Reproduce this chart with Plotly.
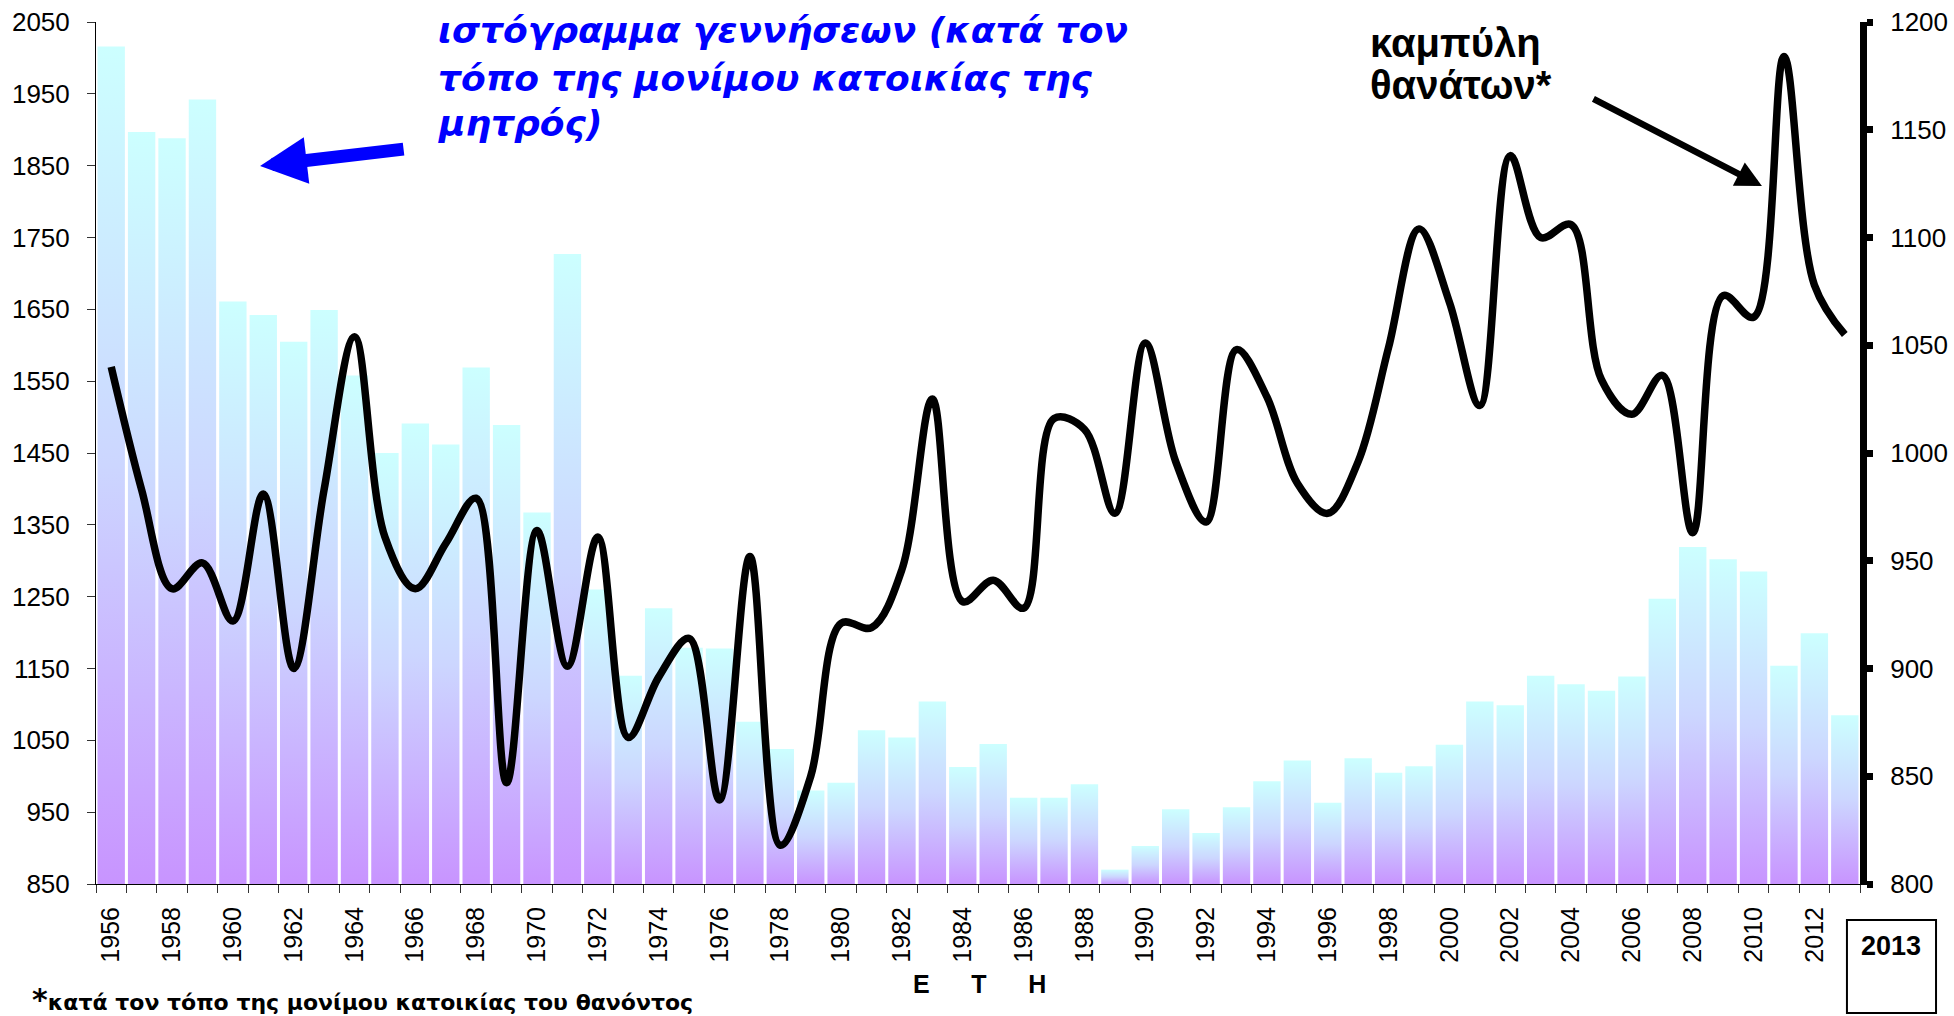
import plotly.graph_objects as go

years = list(range(1956, 2014))
births = [2016, 1897, 1888, 1942, 1661, 1642, 1605, 1649, 1558, 1450,
          1491, 1462, 1569, 1489, 1367, 1727, 1260, 1140, 1234, 1179,
          1178, 1076, 1038, 980, 991, 1064, 1054, 1104, 1013, 1045,
          970, 970, 989, 870, 903, 954, 921, 957, 993, 1022,
          963, 1025, 1005, 1014, 1044, 1104, 1099, 1140, 1128, 1119,
          1139, 1247, 1319, 1302, 1285, 1154, 1199, 1085]
deaths = [1040, 983, 937, 949, 922, 981, 900, 983, 1054, 961,
          937, 958, 979, 847, 964, 901, 961, 868, 896, 914,
          839, 952, 818, 850, 921, 919, 946, 1025, 931, 941,
          928, 1016, 1011, 972, 1051, 996, 968, 1048, 1026, 986,
          972, 996, 1049, 1104, 1070, 1022, 1138, 1100, 1106, 1034,
          1018, 1036, 963, 1073, 1063, 1184, 1078, 1055]
left_ticks = list(range(850, 2051, 100))
right_ticks = list(range(800, 1201, 50))
label_years = [y for y in years if y % 2 == 0 and y < 2013]

Y_MIN, Y_MAX = 850, 2050
HALF = 0.45
AX_FONT = "Liberation Sans, Arial, sans-serif"

fig = go.Figure()

# gradient bars (one filled polygon per year, built from the data arrays)
for yr, v in zip(years, births):
    fig.add_trace(go.Scatter(
        x=[yr - HALF, yr - HALF, yr + HALF, yr + HALF, yr - HALF],
        y=[Y_MIN, v, v, Y_MIN, Y_MIN],
        mode="lines", line=dict(width=0), fill="toself",
        fillgradient=dict(type="vertical",
                          colorscale=[[0, "#C894FF"], [0.5, "#CCD6FF"], [1, "#CCFFFF"]]),
        hoverinfo="skip", showlegend=False, yaxis="y"))

fig.add_trace(go.Scatter(
    x=years, y=deaths, mode="lines", yaxis="y2",
    line=dict(color="black", width=7.5, shape="spline", smoothing=1.0),
    hoverinfo="skip", showlegend=False))

fig.update_layout(
    width=1954, height=1016,
    margin=dict(l=96, r=94, t=22, b=132, autoexpand=False),
    paper_bgcolor="white", plot_bgcolor="white",
    font=dict(family=AX_FONT, color="black"),
    xaxis=dict(
        range=[1955.5, 2013.5], showgrid=False, zeroline=False, automargin=False,
        tickmode="array", tickvals=label_years, ticktext=[str(y) for y in label_years],
        tickangle=-90, ticks="", tickfont=dict(size=25, family=AX_FONT, color="black"),
        showline=True, linecolor="black", linewidth=1,
        ticklabelstandoff=12,
        minor=dict(tickmode="array", tickvals=[y - 0.5 for y in years] + [2013.5],
                   ticks="outside", ticklen=8, tickwidth=1, tickcolor="#333"),
    ),
    yaxis=dict(
        range=[Y_MIN, Y_MAX], tickmode="array", tickvals=left_ticks, automargin=False,
        showgrid=False, zeroline=False, showline=True, linecolor="black", linewidth=1,
        ticks="outside", ticklen=8, tickwidth=1, tickcolor="#333",
        tickfont=dict(size=26, family=AX_FONT, color="black"), ticklabelstandoff=12,
    ),
    yaxis2=dict(
        range=[800, 1200], overlaying="y", side="right", tickmode="array", tickvals=right_ticks,
        showgrid=False, zeroline=False, showline=True, linecolor="black", linewidth=7,
        ticks="outside", ticklen=6, tickwidth=7, tickcolor="black", automargin=False,
        tickfont=dict(size=26, family=AX_FONT, color="black"), ticklabelstandoff=12,
    ),
)

BLUE_FONT = dict(family="DejaVu Sans, sans-serif", size=36, color="#0000FF")
blue_lines = ["ιστόγραμμα γεννήσεων (κατά τον", "τόπο της μονίμου κατοικίας της", "μητρός)"]
blue_y = [0.9896, 0.9339, 0.8817]
for t, yy in zip(blue_lines, blue_y):
    fig.add_annotation(text="<b><i>" + t + "</i></b>", xref="paper", yref="paper",
                       x=0.1927, y=yy, xanchor="left", yanchor="middle",
                       showarrow=False, font=BLUE_FONT)

BLACK_FONT = dict(family=AX_FONT, size=40, color="black")
for t, yy in zip(["καμπύλη", "θανάτων*"], [0.9756, 0.9269]):
    fig.add_annotation(text="<b>" + t + "</b>", xref="paper", yref="paper",
                       x=0.7211, y=yy, xanchor="left", yanchor="middle",
                       showarrow=False, font=BLACK_FONT)

# arrows
fig.add_annotation(text="", xref="paper", yref="paper", x=0.093, y=0.833,
                   ax=145, ay=-17, showarrow=True, arrowhead=2, arrowwidth=13,
                   arrowsize=0.72, arrowcolor="#0000FF")
fig.add_annotation(text="", xref="paper", yref="paper", x=0.9444, y=0.8097,
                   ax=-170, ay=-88, showarrow=True, arrowhead=2, arrowwidth=6.5,
                   arrowsize=0.8, arrowcolor="black")

# axis title
fig.add_annotation(text="<b>Ε\u00a0\u00a0\u00a0\u00a0\u00a0\u00a0Τ\u00a0\u00a0\u00a0\u00a0\u00a0\u00a0Η</b>",
                   xref="paper", yref="paper", x=0.5011, y=-0.116,
                   xanchor="center", yanchor="middle", showarrow=False,
                   font=dict(family=AX_FONT, size=25, color="black"))

# 2013 box
fig.add_shape(type="rect", xref="paper", yref="paper", x0=0.9926, x1=1.0431,
              y0=-0.1497, y1=-0.0418, line=dict(color="black", width=2))
fig.add_annotation(text="<b>2013</b>", xref="paper", yref="paper", x=1.0176, y=-0.0719,
                   xanchor="center", yanchor="middle", showarrow=False,
                   font=dict(family=AX_FONT, size=27, color="black"))

# footnote
fig.add_annotation(text="<b><span style='font-size:30px'>*</span>κατά τον τόπο της μονίμου κατοικίας του θανόντος</b>",
                   xref="paper", yref="paper", x=-0.0374, y=-0.1345,
                   xanchor="left", yanchor="middle", showarrow=False,
                   font=dict(family="DejaVu Sans, sans-serif", size=22, color="black"))

fig.write_html("out.html", config={"displayModeBar": False},
               post_script="document.body.style.margin='0px';document.body.style.overflow='hidden';")
